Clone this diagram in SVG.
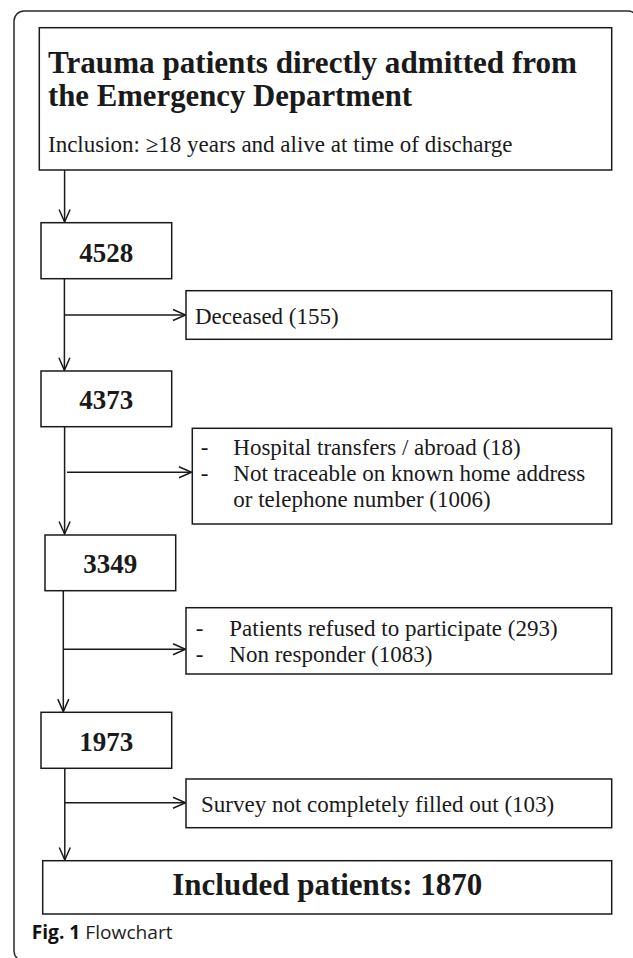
<svg xmlns="http://www.w3.org/2000/svg" width="633" height="958" viewBox="0 0 633 958">
<style>
.box{fill:#fff;stroke:#1a1a1a;stroke-width:1.5}
.ln{fill:none;stroke:#1a1a1a;stroke-width:1.5}
.t{font-family:"Liberation Serif","Times New Roman",serif;fill:#1a1a1a}
.r{font-size:23px}
.num{font-size:27px;font-weight:bold;text-anchor:middle}
.cap{font-family:"Open Sans","Noto Sans",sans-serif;font-size:19px;fill:#222}
</style>
<defs>
<marker id="ah" viewBox="-14 -8 16 16" markerWidth="16" markerHeight="16" refX="0" refY="0" orient="auto" markerUnits="userSpaceOnUse">
<path d="M-12.5,-5.5 L0,0 L-12.5,5.5" fill="none" stroke="#1a1a1a" stroke-width="1.5"/>
</marker>
</defs>
<rect x="14" y="11" width="624" height="950" rx="10" ry="10" fill="#fff" stroke="#2a2a2a" stroke-width="1.5"/>
<g id="connectors">
<line class="ln" x1="64.6" y1="170" x2="64.6" y2="222" marker-end="url(#ah)"/>
<line class="ln" x1="64.4" y1="278.7" x2="64.4" y2="370.3" marker-end="url(#ah)"/>
<line class="ln" x1="64.4" y1="315" x2="185.5" y2="315" marker-end="url(#ah)"/>
<line class="ln" x1="64.6" y1="426.7" x2="64.6" y2="534" marker-end="url(#ah)"/>
<line class="ln" x1="67" y1="472.3" x2="191.5" y2="472.3" marker-end="url(#ah)"/>
<line class="ln" x1="63.3" y1="587.3" x2="63.3" y2="711.6" marker-end="url(#ah)"/>
<line class="ln" x1="63.3" y1="649.3" x2="185.5" y2="649.3" marker-end="url(#ah)"/>
<line class="ln" x1="64.8" y1="768.3" x2="64.8" y2="860" marker-end="url(#ah)"/>
<line class="ln" x1="64.8" y1="802.7" x2="185.5" y2="802.7" marker-end="url(#ah)"/>
</g>
<g id="title">
<rect class="box" x="39.3" y="27.7" width="572.4" height="142.3"/>
<text class="t" x="48" y="73.3" font-size="32" font-weight="bold" textLength="529" lengthAdjust="spacingAndGlyphs">Trauma patients directly admitted from</text>
<text class="t" x="48" y="106" font-size="32" font-weight="bold" textLength="364" lengthAdjust="spacingAndGlyphs">the Emergency Department</text>
<text class="t r" x="48" y="151.7">Inclusion: ≥18 years and alive at time of discharge</text>
</g>
<g id="n4528">
<rect class="box" x="41" y="222.7" width="130.7" height="56"/>
<text class="t num" x="106.3" y="261.7">4528</text>
</g>
<g id="deceased">
<rect class="box" x="186" y="290.7" width="425.7" height="48.6"/>
<text class="t r" x="195" y="324">Deceased (155)</text>
</g>
<g id="n4373">
<rect class="box" x="41" y="371" width="130.7" height="55.7"/>
<text class="t num" x="106.3" y="409.3">4373</text>
</g>
<g id="excl2">
<rect class="box" x="192.3" y="428.3" width="419.4" height="95.7"/>
<text class="t r" x="200.7" y="455">-</text>
<text class="t r" x="233.3" y="455">Hospital transfers / abroad (18)</text>
<text class="t r" x="200.7" y="481.3">-</text>
<text class="t r" x="233.3" y="481.3">Not traceable on known home address</text>
<text class="t r" x="233.3" y="507.3">or telephone number (1006)</text>
</g>
<g id="n3349">
<rect class="box" x="45" y="535" width="130.7" height="55.7"/>
<text class="t num" x="110.3" y="573.3">3349</text>
</g>
<g id="excl3">
<rect class="box" x="186" y="607.7" width="425.7" height="66.3"/>
<text class="t r" x="195.7" y="636">-</text>
<text class="t r" x="229.3" y="636">Patients refused to participate (293)</text>
<text class="t r" x="195.7" y="661.7">-</text>
<text class="t r" x="229.3" y="661.7">Non responder (1083)</text>
</g>
<g id="n1973">
<rect class="box" x="41" y="712.3" width="130.7" height="56"/>
<text class="t num" x="106.3" y="750.7">1973</text>
</g>
<g id="survey">
<rect class="box" x="186" y="779" width="425.7" height="48.7"/>
<text class="t r" x="201" y="811.7">Survey not completely filled out (103)</text>
</g>
<g id="included">
<rect class="box" x="42.7" y="860.7" width="569" height="53.3"/>
<text class="t" x="327.3" y="895" font-size="31" font-weight="bold" text-anchor="middle">Included patients: 1870</text>
</g>
<text class="cap" x="31.7" y="939" textLength="141" lengthAdjust="spacingAndGlyphs"><tspan font-weight="bold" fill="#111">Fig. 1</tspan> Flowchart</text>
</svg>
